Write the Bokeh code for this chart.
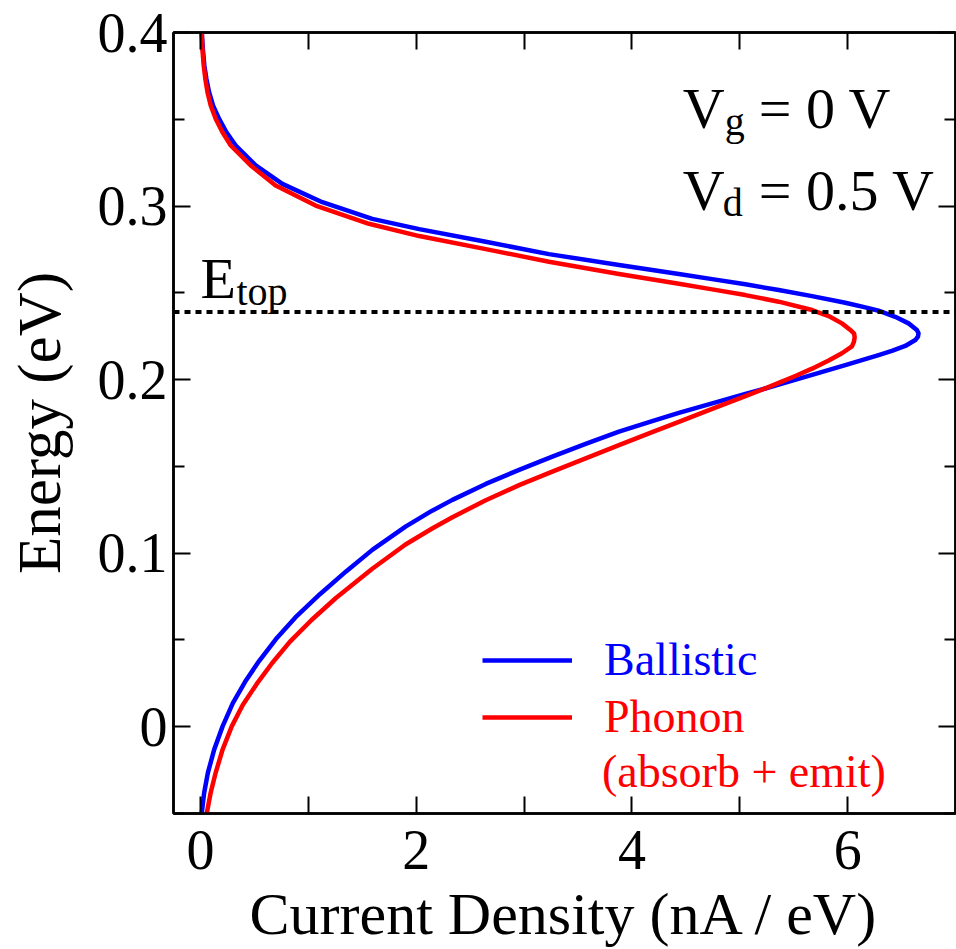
from bokeh.embed import file_html
from bokeh.models import (CustomJSTickFormatter, FixedTicker, Label, Legend,
                          LegendItem, LinearAxis, Range1d, Span)
from bokeh.plotting import figure
from bokeh.resources import INLINE

FONT = "Liberation Serif"

# Energy-resolved current density, ballistic transport (energy in eV, current in nA/eV)
ballistic_energy = [
    -0.0497, -0.0382, -0.0267, -0.0132, 0.0002, 0.0136, 0.0260, 0.0380, 0.0505,
    0.0630, 0.0765, 0.0895, 0.1019, 0.1153, 0.1245, 0.1307, 0.1399, 0.1480,
    0.1556, 0.1630, 0.1700, 0.1761, 0.1808, 0.1863, 0.1917, 0.1949, 0.1971,
    0.2027, 0.2084, 0.2141, 0.2165, 0.2194, 0.2228, 0.2248, 0.2267, 0.2286,
    0.2324, 0.2362, 0.2397, 0.2416, 0.2443, 0.2481, 0.2516, 0.2549, 0.2579,
    0.2608, 0.2660, 0.2723, 0.2794, 0.2867, 0.2926, 0.3022, 0.3128, 0.3234,
    0.3349, 0.3425, 0.3502, 0.3579, 0.3656, 0.3733, 0.3810, 0.3905, 0.4001,
]
ballistic_current = [
    0.012, 0.034, 0.068, 0.127, 0.205, 0.300, 0.415, 0.545, 0.700,
    0.880, 1.110, 1.350, 1.593, 1.901, 2.148, 2.336, 2.645, 2.954,
    3.262, 3.571, 3.880, 4.188, 4.435, 4.744, 5.052, 5.237, 5.361,
    5.670, 5.978, 6.287, 6.410, 6.534, 6.627, 6.652, 6.657, 6.642,
    6.565, 6.441, 6.287, 6.164, 5.978, 5.670, 5.361, 5.052, 4.744,
    4.435, 3.880, 3.231, 2.645, 2.028, 1.593, 1.130, 0.759, 0.512,
    0.327, 0.241, 0.173, 0.117, 0.080, 0.055, 0.036, 0.022, 0.012,
]

# Same quantity with phonon scattering (absorption + emission)
phonon_energy = [
    -0.0497, -0.0382, -0.0267, -0.0132, 0.0002, 0.0125, 0.0245, 0.0367, 0.0490,
    0.0615, 0.0740, 0.0910, 0.1050, 0.1142, 0.1207, 0.1305, 0.1392, 0.1470,
    0.1546, 0.1622, 0.1697, 0.1757, 0.1831, 0.1905, 0.1950, 0.1981, 0.2021,
    0.2063, 0.2110, 0.2152, 0.2192, 0.2218, 0.2244, 0.2265, 0.2286, 0.2324,
    0.2366, 0.2401, 0.2449, 0.2487, 0.2520, 0.2552, 0.2608, 0.2679, 0.2752,
    0.2827, 0.2898, 0.3003, 0.3119, 0.3234, 0.3349, 0.3425, 0.3502, 0.3579,
    0.3656, 0.3733, 0.3810, 0.3905, 0.4001,
]
phonon_current = [
    0.059, 0.094, 0.140, 0.205, 0.290, 0.392, 0.520, 0.665, 0.830,
    1.030, 1.253, 1.593, 1.901, 2.148, 2.336, 2.645, 2.954, 3.262,
    3.571, 3.880, 4.188, 4.435, 4.744, 5.052, 5.237, 5.361, 5.515,
    5.670, 5.824, 5.947, 6.040, 6.058, 6.065, 6.060, 6.025, 5.947,
    5.824, 5.670, 5.361, 5.052, 4.744, 4.435, 3.880, 3.231, 2.645,
    2.028, 1.562, 1.068, 0.697, 0.466, 0.281, 0.204, 0.142, 0.095,
    0.065, 0.045, 0.030, 0.018, 0.012,
]

x_major_ticks = [0, 2, 4, 6]
x_minor_ticks = [1, 3, 5]
y_major_ticks = [0, 0.1, 0.2, 0.3, 0.4]
y_tick_labels = ["0", "0.1", "0.2", "0.3", "0.4"]
y_minor_ticks = [-0.05, 0.05, 0.15, 0.25, 0.35]
top_of_barrier = 0.239  # E_top in eV

p = figure(
    width=956, height=949,
    x_range=Range1d(-0.25, 7.0), y_range=Range1d(-0.05, 0.4),
    output_backend="svg", toolbar_location=None,
    min_border_left=173, min_border_right=1,
    min_border_top=32, min_border_bottom=135,
)
p.background_fill_color = "white"
p.border_fill_color = "white"
p.outline_line_color = "black"
p.outline_line_width = 2.5
p.xgrid.grid_line_color = None
p.ygrid.grid_line_color = None


def style_axis(ax, major_len, minor_len, title_size="58px"):
    ax.major_tick_in = major_len
    ax.major_tick_out = 0
    ax.minor_tick_in = minor_len
    ax.minor_tick_out = 0
    ax.major_tick_line_width = 2
    ax.minor_tick_line_width = 2
    ax.major_tick_line_color = "black"
    ax.minor_tick_line_color = "black"
    ax.axis_line_color = "black"
    ax.axis_line_width = 2.5
    ax.major_label_text_font = FONT
    ax.major_label_text_color = "black"
    ax.major_label_text_font_size = "56px"
    ax.axis_label_text_font = FONT
    ax.axis_label_text_font_size = title_size
    ax.axis_label_text_font_style = "normal"
    ax.axis_label_text_color = "black"


x_ticker = FixedTicker(ticks=x_major_ticks, minor_ticks=x_minor_ticks)
y_ticker = FixedTicker(ticks=y_major_ticks, minor_ticks=y_minor_ticks)

xb = p.xaxis[0]
xb.ticker = x_ticker
style_axis(xb, 17, 17, "60px")
xb.major_label_standoff = 17
xb.axis_label = "Current Density (nA / eV)"
xb.axis_label_standoff = 9

yl = p.yaxis[0]
yl.ticker = y_ticker
style_axis(yl, 17, 11, "61px")
yl.major_label_standoff = 6
yl.major_label_overrides = dict(zip(y_major_ticks, y_tick_labels))
yl.axis_label = "Energy (eV)"
yl.axis_label_standoff = 22

# Mirror ticks on the top and right edges, without labels
blank = CustomJSTickFormatter(code="return ''")
xt = LinearAxis(ticker=x_ticker, formatter=blank)
style_axis(xt, 17, 17)
xt.major_label_text_font_size = "1px"
xt.major_label_standoff = 0
p.add_layout(xt, "above")

yr = LinearAxis(ticker=y_ticker, formatter=blank)
style_axis(yr, 17, 11)
yr.major_label_text_font_size = "1px"
yr.major_label_standoff = 0
p.add_layout(yr, "right")

# Current density curves
r_ball = p.line(ballistic_current, ballistic_energy, line_color="#0000ff",
                line_width=4.5, line_join="round")
r_phon = p.line(phonon_current, phonon_energy, line_color="#ff0000",
                line_width=4.5, line_join="round")

# Top of the barrier
p.add_layout(Span(location=top_of_barrier, dimension="width", line_color="black",
                  line_width=4, line_dash="6 5"))


def text(x, y, s, size, color="black", **kw):
    p.add_layout(Label(x=x, y=y, text=s, text_font=FONT, text_font_size=size,
                       text_color=color, text_baseline="alphabetic", **kw))


# E_top marker
text(0.0, 0.258, "E", "58px")
text(0.333, 0.251, "top", "40px")

# Bias conditions
text(4.472, 0.3564, "V", "58px")
text(4.861, 0.3489, "g", "40px")
text(5.176, 0.3564, "= 0 V", "58px")
text(4.472, 0.3092, "V", "58px")
text(4.843, 0.3022, "d", "40px")
text(5.176, 0.3092, "= 0.5 V", "58px")


def make_legend(label, renderer, color, loc):
    leg = Legend(items=[LegendItem(label=label, renderers=[renderer])], location=loc,
                 padding=0, margin=0, spacing=0, border_line_color=None,
                 background_fill_alpha=0, glyph_width=90, glyph_height=40,
                 label_height=40, label_standoff=32, label_text_font=FONT,
                 label_text_font_size="46px", label_text_color=color)
    p.add_layout(leg, "center")


make_legend("Ballistic", r_ball, "#0000ff", (309, 127))
make_legend("Phonon", r_phon, "#ff0000", (309, 70))
text(3.722, -0.0259, "(absorb + emit)", "46px", color="#ff0000")

open("out.html", "w").write(file_html(p, INLINE))
